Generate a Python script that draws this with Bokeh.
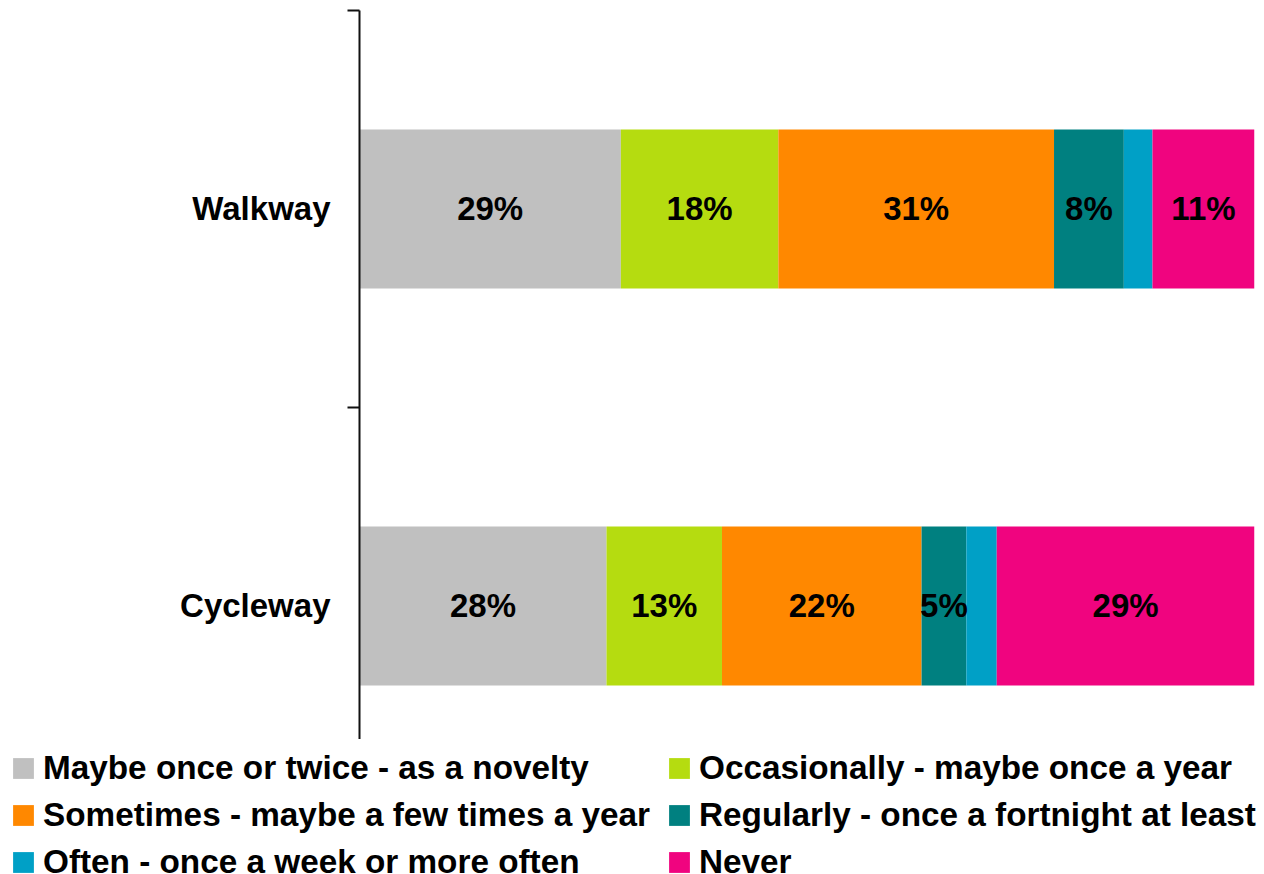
import numpy as np
from bokeh.plotting import figure
from bokeh.layouts import column
from bokeh.models import ColumnDataSource, FixedTicker, Range1d, Legend, LegendItem
from bokeh.embed import file_html
from bokeh.resources import INLINE
from bokeh.core.properties import value

# ---- data ----
categories = ["Walkway", "Cycleway"]
series = [
    "Maybe once or twice - as a novelty",
    "Occasionally - maybe once a year",
    "Sometimes - maybe a few times a year",
    "Regularly - once a fortnight at least",
    "Often - once a week or more often",
    "Never",
]
walkway = [29.2, 17.6, 30.8, 7.8, 3.2, 11.4]
cycleway = [27.6, 12.9, 22.3, 5.0, 3.4, 28.8]
colors = ["#C0C0C0", "#B5DC10", "#FF8800", "#008080", "#00A0C6", "#F0047F"]

values = [walkway, cycleway]
ncat = len(categories)
ypos = [ncat - i - 0.5 for i in range(ncat)]

FONT = "Liberation Sans"

p = figure(width=1264, height=739, output_backend="svg", toolbar_location=None,
           x_range=Range1d(0, 100), y_range=Range1d(0.1637, 2.0),
           x_axis_location=None, min_border_left=359, min_border_right=10,
           min_border_top=10, min_border_bottom=0)
p.frame_align = False
p.outline_line_color = None
p.xgrid.visible = False
p.ygrid.visible = False

data = {"y": ypos}
for j, s in enumerate(series):
    data[s] = [values[i][j] for i in range(ncat)]
src = ColumnDataSource(data)
rs = p.hbar_stack(series, y="y", height=0.4, color=colors, line_color=None, source=src)

# value labels
lx, ly, lt = [], [], []
for i in range(ncat):
    v = np.array(values[i])
    left = np.concatenate([[0], np.cumsum(v)[:-1]])
    for j in range(len(v)):
        if v[j] >= 4:
            lx.append(left[j] + v[j] / 2)
            ly.append(ypos[i])
            lt.append(f"{round(v[j])}%")
p.text(x="x", y="y", text="t", source=ColumnDataSource(dict(x=lx, y=ly, t=lt)),
       text_align="center", text_baseline="middle", text_font=value(FONT),
       text_font_style="bold", text_font_size="33px", text_color="black")

ax = p.yaxis[0]
ax.ticker = FixedTicker(ticks=ypos, minor_ticks=[1.0, 2.0])
ax.major_label_overrides = {y: c for y, c in zip(ypos, categories)}
ax.major_tick_out = 0
ax.major_tick_in = 0
ax.minor_tick_out = 12
ax.minor_tick_in = 0
ax.minor_tick_line_color = "#111111"
ax.minor_tick_line_width = 2
ax.axis_line_color = "#111111"
ax.axis_line_width = 2
ax.major_label_standoff = 17
ax.major_label_text_font = FONT
ax.major_label_text_font_style = "bold"
ax.major_label_text_font_size = "33px"
ax.major_label_text_color = "black"

# legend strip below the chart (dummy swatch renderers sit outside the visible range)
pl = figure(width=1264, height=135, output_backend="svg", toolbar_location=None,
            x_range=Range1d(0, 1), y_range=Range1d(0, 1),
            x_axis_location=None, y_axis_location=None,
            min_border_left=0, min_border_right=0, min_border_top=0, min_border_bottom=0)
pl.frame_align = False
pl.outline_line_color = None
pl.xgrid.visible = False
pl.ygrid.visible = False
swatch = ColumnDataSource(dict(y=[-5.0], w=[0.0]))
lrs = [pl.hbar(y="y", right="w", height=0.5, color=c, line_color=None, source=swatch)
       for c in colors]

# Bokeh fills legend columns top-to-bottom; reorder so rows read left-to-right
n = len(series)
order = list(range(0, n, 2)) + list(range(1, n, 2))
legend = Legend(items=[LegendItem(label=series[k], renderers=[lrs[k]]) for k in order],
                ncols=2, location=(10, -7))
legend.padding = 0
legend.margin = 0
legend.spacing = 9
legend.glyph_width = 26
legend.glyph_height = 26
legend.label_standoff = 7
legend.label_width = 614
legend.label_height = 20
legend.label_text_line_height = 1.0
legend.label_text_font = FONT
legend.label_text_font_style = "bold"
legend.label_text_font_size = "33.3px"
legend.label_text_color = "black"
legend.border_line_color = None
legend.background_fill_alpha = 0
pl.add_layout(legend, "center")

layout = column(p, pl, spacing=0)
open("out.html", "w").write(file_html(layout, INLINE))
